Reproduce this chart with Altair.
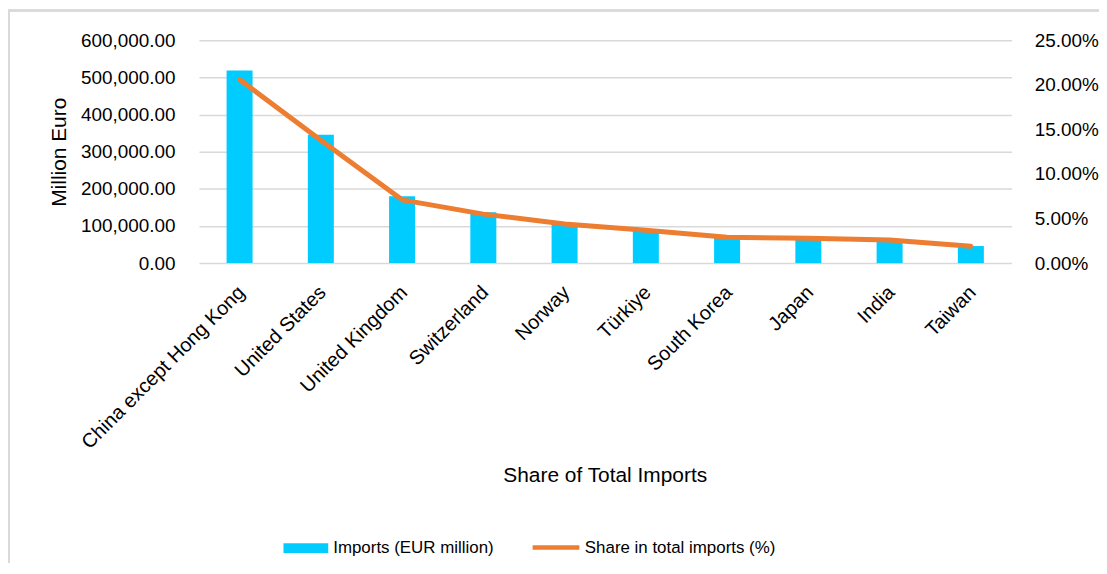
import altair as alt
import pandas as pd

countries = ["China except Hong Kong", "United States", "United Kingdom", "Switzerland",
             "Norway", "Türkiye", "South Korea", "Japan", "India", "Taiwan"]
imports_eur_m = [519000, 346000, 180000, 137000, 108000, 90000, 72000, 69000, 64000, 46000]
share_pct = [20.6, 13.8, 7.1, 5.5, 4.4, 3.7, 2.9, 2.8, 2.6, 1.9]

bar_name = "Imports (EUR million)"
line_name = "Share in total imports (%)"

df = pd.DataFrame({
    "country": countries,
    "imports": imports_eur_m,
    "share": [v / 100 for v in share_pct],
    "bar_series": bar_name,
    "line_series": line_name,
})

FONT = "Liberation Sans"
GRID = "#d9d9d9"

x_enc = alt.X(
    "country:N", sort=countries,
    scale=alt.Scale(paddingInner=0.68, paddingOuter=0.34),
    axis=alt.Axis(
        title="Share of Total Imports", labelAngle=-45, labelFontSize=20,
        labelFont=FONT, labelColor="#000000", labelPadding=19, labelOffset=-5,
        labelLimit=400, ticks=False,
        domain=False, titleFont=FONT, titleFontSize=21, titleFontWeight="normal",
        titleColor="#000000", titleX=408, titleY=214, titleBaseline="middle",
        titleAlign="center",
    ),
)

bars = alt.Chart(df).mark_bar(color="#00CCFF").encode(
    x=x_enc,
    y=alt.Y(
        "imports:Q",
        scale=alt.Scale(domain=[0, 600000], nice=False),
        axis=alt.Axis(
            title="Million Euro", values=[0, 100000, 200000, 300000, 400000, 500000, 600000],
            format=",.2f", labelFont=FONT, labelFontSize=19, labelColor="#000000",
            labelPadding=24, ticks=False, domain=False, grid=True, gridColor=GRID,
            gridWidth=1.5, titleFont=FONT, titleFontSize=21, titleFontWeight="normal",
            titleColor="#000000", titleX=-140, titleY=112, titleAngle=-90,
            titleAlign="center", titleBaseline="middle",
        ),
    ),
    fill=alt.Fill(
        "bar_series:N",
        scale=alt.Scale(domain=[bar_name], range=["#00CCFF"]),
        legend=alt.Legend(
            title=None, orient="none", legendX=85, legendY=488, padding=0,
            symbolType="M-1,-0.22H1V0.22H-1Z", symbolSize=2025, symbolStrokeWidth=0,
            symbolFillColor="#00CCFF", labelFont=FONT, labelFontSize=17,
            labelColor="#000000", labelOffset=5, labelLimit=400,
        ),
    ),
)

line = alt.Chart(df).mark_line(strokeWidth=5, strokeCap="round", strokeJoin="round").encode(
    x=alt.X("country:N", sort=countries),
    y=alt.Y(
        "share:Q",
        scale=alt.Scale(domain=[0, 0.25], nice=False),
        axis=alt.Axis(
            orient="right", title=None, values=[0, 0.05, 0.10, 0.15, 0.20, 0.25],
            format=".2%", labelFont=FONT, labelFontSize=19, labelColor="#000000",
            labelPadding=23, ticks=False, domain=False, grid=False,
        ),
    ),
    stroke=alt.Stroke(
        "line_series:N",
        scale=alt.Scale(domain=[line_name], range=["#ED7D31"]),
        legend=alt.Legend(
            title=None, orient="none", legendX=333, legendY=484, padding=0,
            symbolType="stroke", symbolSize=2209, symbolStrokeWidth=4.5,
            labelFont=FONT, labelFontSize=17, labelColor="#000000",
            labelOffset=3, labelLimit=400,
        ),
    ),
)

frame = alt.Chart(df).mark_rect(
    fill=None, stroke=GRID, strokeWidth=1.5
).encode(
    x=alt.value(-191), x2=alt.value(1200),
    y=alt.value(-30), y2=alt.value(700),
)

chart = alt.layer(frame, bars, line).resolve_scale(
    y="independent", fill="independent", stroke="independent"
).properties(
    width=817, height=224,
    autosize=alt.AutoSizeParams(type="none"),
    padding={"left": 192, "top": 31, "right": 88, "bottom": 300},
    background="#ffffff",
).configure_view(stroke=None)

chart.save("out.html", embed_options={"renderer": "svg", "actions": False})
